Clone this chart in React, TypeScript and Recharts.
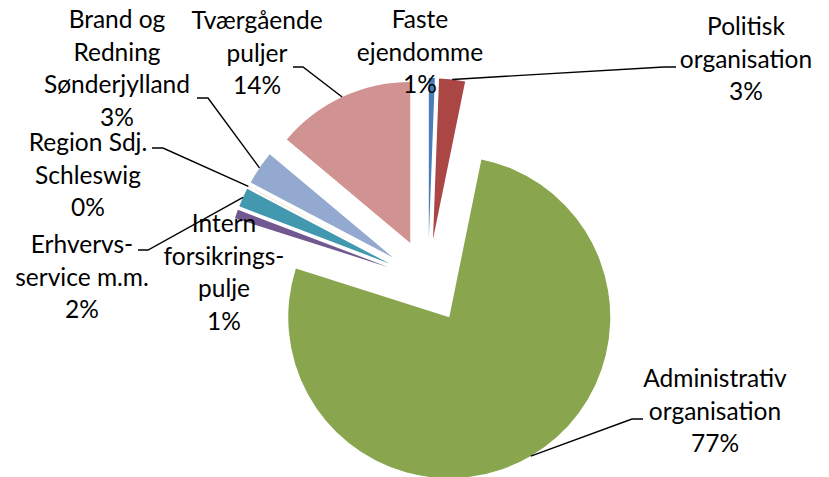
import React from 'react';
import { PieChart, Pie, Sector } from 'recharts';

const CATEGORIES = [
  'Faste ejendomme',
  'Politisk organisation',
  'Administrativ organisation',
  'Intern forsikrings-pulje',
  'Erhvervs-service m.m.',
  'Region Sdj. Schleswig',
  'Brand og Redning Sønderjylland',
  'Tværgående puljer',
];
const SHARES = [0.6, 2.6, 76.7, 0.9, 1.9, 0.02, 3.38, 13.9];
const COLORS = ['#4A7EBB', '#AA4643', '#89A54E', '#71588F', '#4198AF', '#DB843D', '#93A9CF', '#D19392'];

const data = CATEGORIES.map((name, i) => ({ name, value: SHARES[i] }));

const RAD = Math.PI / 180;
const EXPLODE = 42;
const FONT = 'Lato, "Open Sans", sans-serif';
const FONT_SIZE = 24.5;
const LINE_H = 32.5;

const polar = (cx: number, cy: number, r: number, a: number) => ({
  x: cx + r * Math.cos(-a * RAD),
  y: cy + r * Math.sin(-a * RAD),
});

type Layout = { x: number; y: number; wrap: number[]; elbow: [number, number][] | null };
const LABEL_LAYOUT: Layout[] = [
  { x: 420, y: 28, wrap: [1, 1], elbow: null },
  { x: 746, y: 35, wrap: [1, 1], elbow: [[664, 67], [676, 67]] },
  { x: 715, y: 387, wrap: [1, 1], elbow: [[632, 419], [643, 419]] },
  { x: 224, y: 232, wrap: [1, 1, 1], elbow: null },
  { x: 82, y: 253, wrap: [1, 2], elbow: [[148, 250], [138, 250]] },
  { x: 88, y: 151, wrap: [2, 1], elbow: [[163, 148], [152, 148]] },
  { x: 117, y: 28, wrap: [2, 1, 1], elbow: [[208, 98], [197, 98]] },
  { x: 257, y: 29, wrap: [1, 1], elbow: [[303, 67], [293, 67]] },
];

const tokenize = (s: string) => s.match(/[^\s-]+-?/g) || [s];

const wrapName = (name: string, wrap: number[]) => {
  const words = tokenize(name);
  const lines: string[] = [];
  let k = 0;
  wrap.forEach((n) => {
    let line = '';
    for (let j = 0; j < n && k < words.length; j++, k++) {
      const w = words[k];
      line += line === '' || line.endsWith('-') ? w : ' ' + w;
    }
    lines.push(line);
  });
  return lines;
};

const explodedCenter = (p: any) => {
  const o = polar(0, 0, EXPLODE, p.midAngle);
  return { cx: p.cx + o.x, cy: p.cy + o.y };
};

const renderSlice = (p: any) => {
  const c = explodedCenter(p);
  return (
    <Sector
      key={`s-${p.index}`}
      cx={c.cx}
      cy={c.cy}
      innerRadius={0}
      outerRadius={p.outerRadius}
      startAngle={p.startAngle}
      endAngle={p.endAngle}
      fill={COLORS[p.index % COLORS.length]}
      stroke="none"
    />
  );
};

const renderLabel = (p: any) => {
  const lay = LABEL_LAYOUT[p.index];
  const c = explodedCenter(p);
  const anchor = polar(c.cx, c.cy, p.outerRadius, p.midAngle);
  const lines = [...wrapName(p.name, lay.wrap), `${Math.round(p.percent * 100)}%`];
  return (
    <g key={`l-${p.index}`}>
      {lay.elbow && (
        <polyline
          points={[[anchor.x, anchor.y], ...lay.elbow].map((q) => q.join(',')).join(' ')}
          fill="none"
          stroke="#000"
          strokeWidth={1.4}
        />
      )}
      {lines.map((t, i) => (
        <text
          key={i}
          x={lay.x}
          y={lay.y + i * LINE_H}
          textAnchor="middle"
          fontFamily={FONT}
          fontSize={FONT_SIZE}
          fill="#000"
        >
          {t}
        </text>
      ))}
    </g>
  );
};

export default function App() {
  return (
    <div style={{ position: 'absolute', left: 0, top: 0, background: '#fff' }}>
      <PieChart width={829} height={477} margin={{ top: 0, right: 0, bottom: 0, left: 0 }}>
        <Pie
          data={data}
          dataKey="value"
          nameKey="name"
          cx={428}
          cy={281}
          outerRadius={161}
          startAngle={90}
          endAngle={-270}
          fill="none"
          stroke="none"
          label={renderSlice}
          labelLine={false}
          isAnimationActive={false}
        />
        <Pie
          data={data}
          dataKey="value"
          nameKey="name"
          cx={428}
          cy={281}
          outerRadius={161}
          startAngle={90}
          endAngle={-270}
          fill="none"
          stroke="none"
          label={renderLabel}
          labelLine={false}
          isAnimationActive={false}
        />
      </PieChart>
    </div>
  );
}
